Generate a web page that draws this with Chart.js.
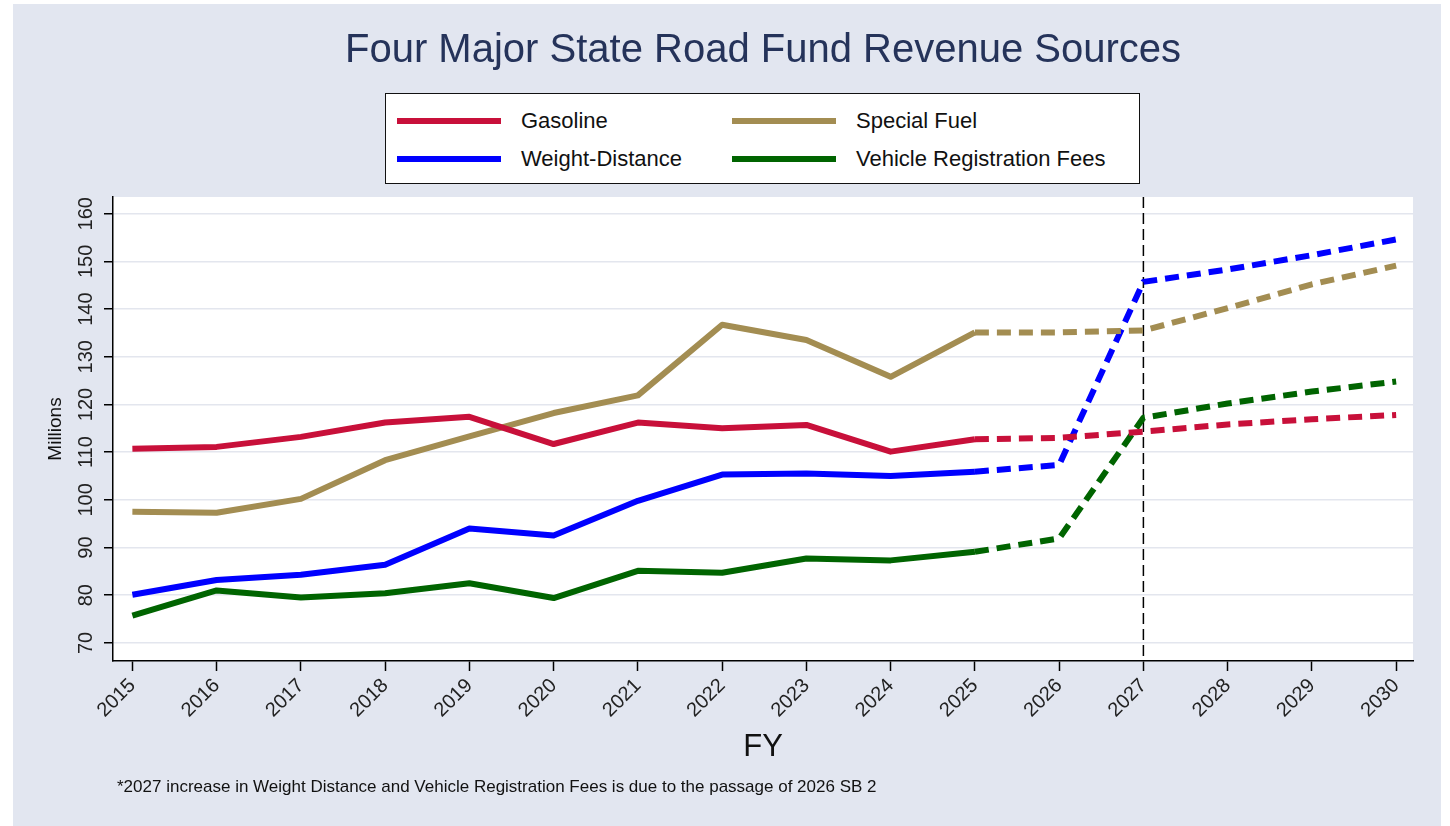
<!DOCTYPE html>
<html>
<head>
<meta charset="utf-8">
<script src="https://cdn.jsdelivr.net/npm/chart.js@4.4.1/dist/chart.umd.min.js"></script>
<style>
  html, body { margin: 0; padding: 0; background: #ffffff; }
  body { width: 1450px; height: 826px; position: relative; overflow: hidden; font-family: "Liberation Sans", Arial, sans-serif; }
  #panel { position: absolute; left: 13px; top: 4px; width: 1428px; height: 822px; background: #e2e6f0; }
  #myChart { position: absolute; left: 0; top: 0; }
  #titol { position: absolute; left: 100px; width: 1300px; top: 22px; text-align: center; font-size: 40px; color: #25335a; }
  #llegenda { position: absolute; left: 372px; top: 89px; width: 753px; height: 89px; background: #fff; border: 1.5px solid #111; }
  .item { position: absolute; height: 30px; line-height: 30px; font-size: 22px; color: #111; }
  .item span.mostra { position: absolute; left: 0; top: 12px; width: 104px; height: 6px; }
  .item span.text { position: absolute; left: 124px; white-space: nowrap; }
  #nota { position: absolute; left: 104px; top: 773px; font-size: 17px; color: #111; white-space: nowrap; }
</style>
</head>
<body>
<div id="panel">
  <canvas id="myChart" width="1428" height="822"></canvas>
  <div id="titol">Four Major State Road Fund Revenue Sources</div>
  <div id="llegenda"></div>
  <div id="nota">*2027 increase in Weight Distance and Vehicle Registration Fees is due to the passage of 2026 SB 2</div>
</div>
<script>
// dades llegides del grafic (milions)
const anys = [2015, 2016, 2017, 2018, 2019, 2020, 2021, 2022, 2023, 2024, 2025, 2026, 2027, 2028, 2029, 2030];
const gasoline = [110.7, 111.1, 113.2, 116.2, 117.4, 111.7, 116.2, 115.0, 115.7, 110.1, 112.7, 113.0, 114.3, 115.8, 116.9, 117.8];
const specialFuel = [97.5, 97.3, 100.2, 108.3, 113.3, 118.2, 121.9, 136.7, 133.5, 125.8, 135.1, 135.1, 135.5, 140.2, 145.2, 149.1];
const weightDistance = [80.1, 83.2, 84.3, 86.4, 94.0, 92.5, 99.8, 105.3, 105.5, 105.0, 105.9, 107.3, 145.7, 148.3, 151.3, 154.6];
const vehicleReg = [75.7, 81.0, 79.5, 80.4, 82.5, 79.4, 85.1, 84.7, 87.7, 87.3, 89.1, 91.9, 117.2, 120.2, 122.7, 124.8];
const yTicks = [70, 80, 90, 100, 110, 120, 130, 140, 150, 160];
const ultimReal = 2025;     // a partir d'aqui es previsio (discontinua)
const anyLlei = 2027;       // linia vertical

const series = [
    { label: 'Gasoline', data: gasoline, color: '#c8103a', col: 0, row: 0 },
    { label: 'Special Fuel', data: specialFuel, color: '#a38d52', col: 1, row: 0 },
    { label: 'Weight-Distance', data: weightDistance, color: '#0000ff', col: 0, row: 1 },
    { label: 'Vehicle Registration Fees', data: vehicleReg, color: '#006400', col: 1, row: 1 }
];

// llegenda
const lleg = document.getElementById('llegenda');
series.forEach(function (s) {
    const d = document.createElement('div');
    d.className = 'item';
    d.style.left = (11 + s.col * 335) + 'px';
    d.style.top = (12 + s.row * 38) + 'px';
    d.innerHTML = '<span class="mostra" style="background:' + s.color + '"></span><span class="text">' + s.label + '</span>';
    lleg.appendChild(d);
});

const fonsBlanc = {
    id: 'fonsBlanc',
    beforeDraw: function (chart) {
        const a = chart.chartArea, ctx = chart.ctx;
        ctx.save();
        ctx.fillStyle = '#ffffff';
        ctx.fillRect(a.left, a.top, a.right - a.left, a.bottom - a.top);
        ctx.restore();
    },
    beforeDatasetsDraw: function (chart) {
        const a = chart.chartArea, ctx = chart.ctx;
        const x = chart.scales.x.getPixelForValue(anyLlei);
        ctx.save();
        ctx.strokeStyle = '#000';
        ctx.lineWidth = 1.5;
        ctx.setLineDash([11, 5]);
        ctx.beginPath();
        ctx.moveTo(x, a.top);
        ctx.lineTo(x, a.bottom);
        ctx.stroke();
        ctx.restore();
    },
    afterDraw: function (chart) {
        // etiquetes de l'eix y girades
        const ctx = chart.ctx, sy = chart.scales.y;
        ctx.save();
        ctx.fillStyle = '#222';
        ctx.font = '20px "Liberation Sans", Arial, sans-serif';
        ctx.textAlign = 'center';
        ctx.textBaseline = 'middle';
        sy.ticks.forEach(function (t) {
            const y = sy.getPixelForValue(t.value);
            ctx.save();
            ctx.translate(chart.chartArea.left - 27, y);
            ctx.rotate(-Math.PI / 2);
            ctx.fillText(String(t.value), 0, 0);
            ctx.restore();
        });
        ctx.restore();
    }
};

const ctx = document.getElementById('myChart').getContext('2d');
const myChart = new Chart(ctx, {
    type: 'line',
    data: {
        datasets: series.map(function (s) {
            return {
                label: s.label,
                data: s.data.map(function (v, i) { return { x: anys[i], y: v }; }),
                borderColor: s.color,
                borderWidth: 6,
                borderCapStyle: 'butt',
                borderJoinStyle: 'round',
                pointRadius: 0,
                tension: 0,
                segment: {
                    borderDash: function (c) { return c.p0.parsed.x >= ultimReal ? [14, 8] : undefined; }
                }
            };
        })
    },
    plugins: [fonsBlanc],
    options: {
        responsive: false,
        animation: false,
        layout: { padding: { left: 30, right: 28, top: 193, bottom: 60 } },
        plugins: {
            legend: { display: false },
            tooltip: { enabled: false }
        },
        scales: {
            x: {
                type: 'linear',
                min: 2014.77,
                max: 2030.2,
                afterBuildTicks: function (scale) {
                    scale.ticks = anys.map(function (v) { return { value: v }; });
                },
                afterFit: function (scale) {
                    scale.height = 105;
                    scale.paddingLeft = 0;
                    scale.paddingRight = 0;
                },
                grid: { drawOnChartArea: false, drawTicks: true, tickLength: 10, tickColor: '#000', tickWidth: 1.5 },
                border: { display: true, color: '#000', width: 1.5 },
                ticks: {
                    minRotation: 45,
                    maxRotation: 45,
                    padding: 3,
                    color: '#222',
                    font: { size: 20, family: '"Liberation Sans", Arial, sans-serif' },
                    callback: function (v) { return String(v); }
                },
                title: {
                    display: true,
                    text: 'FY',
                    color: '#111',
                    font: { size: 31, family: '"Liberation Sans", Arial, sans-serif' },
                    padding: { top: 0, bottom: 0 }
                }
            },
            y: {
                type: 'linear',
                min: 66.2,
                max: 163.5,
                afterBuildTicks: function (scale) {
                    scale.ticks = yTicks.map(function (v) { return { value: v }; });
                },
                afterFit: function (scale) {
                    scale.width = 70;
                    scale.paddingTop = 0;
                    scale.paddingBottom = 0;
                },
                grid: { color: '#e3e6ee', lineWidth: 1.5, drawTicks: true, tickLength: 9, tickColor: '#000', tickWidth: 1.5 },
                border: { display: true, color: '#000', width: 1.5 },
                ticks: { display: false },
                title: {
                    display: true,
                    text: 'Millions',
                    color: '#111',
                    font: { size: 19, family: '"Liberation Sans", Arial, sans-serif' },
                    padding: { top: 1, bottom: 0 }
                }
            }
        }
    }
});
</script>
</body>
</html>
